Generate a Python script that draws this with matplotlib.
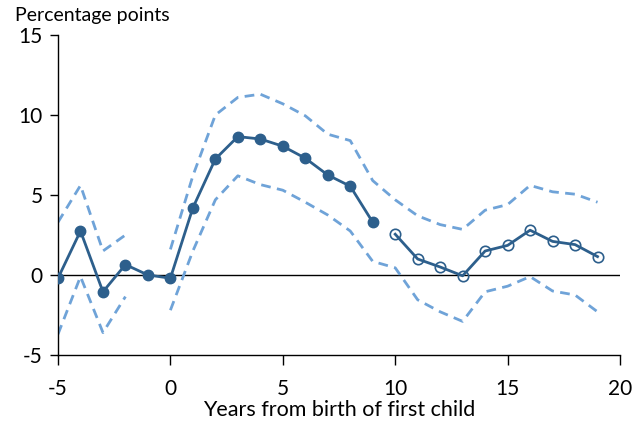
import numpy as np
import matplotlib.pyplot as plt

plt.rcParams['font.family'] = ['Lato', 'DejaVu Sans']

# years relative to birth of first child
years_pre = [-5, -4, -3, -2, -1, 0, 1, 2, 3, 4, 5, 6, 7, 8, 9]
est_pre = [-0.2, 2.75, -1.05, 0.65, 0.0, -0.2, 4.2, 7.25, 8.65, 8.5, 8.05, 7.3, 6.25, 5.55, 3.3]

years_post = [10, 11, 12, 13, 14, 15, 16, 17, 18, 19]
est_post = [2.55, 1.0, 0.5, -0.05, 1.5, 1.85, 2.8, 2.1, 1.9, 1.15]

# confidence bands (gap at -1, the reference year)
band_years_a = [-5, -4, -3, -2]
upper_a = [3.3, 5.6, 1.5, 2.5]
lower_a = [-3.7, -0.1, -3.6, -1.35]

band_years_b = [0, 1, 2, 3, 4, 5, 6, 7, 8, 9, 10, 11, 12, 13, 14, 15, 16, 17, 18, 19]
upper_b = [1.6, 6.2, 10.0, 11.1, 11.3, 10.7, 9.95, 8.8, 8.4, 5.9, 4.7, 3.7, 3.15, 2.85, 4.05, 4.4, 5.6, 5.2, 5.05, 4.55]
lower_b = [-2.2, 1.5, 4.7, 6.2, 5.65, 5.3, 4.55, 3.75, 2.75, 0.85, 0.45, -1.55, -2.3, -2.9, -1.05, -0.7, -0.1, -1.0, -1.25, -2.3]

dark = '#2d5f8c'
light = '#6fa3d8'

fig = plt.figure(figsize=(6.44, 4.21), dpi=100)
ax = fig.add_axes([58/644, 1-355/421, 562/644, 320/421])

ax.axhline(0, color='black', lw=1.0, zorder=1)

for yrs, up, lo in [(band_years_a, upper_a, lower_a), (band_years_b, upper_b, lower_b)]:
    ax.plot(yrs, up, color=light, lw=2.0, ls=(0, (3.5, 2.3)), zorder=2)
    ax.plot(yrs, lo, color=light, lw=2.0, ls=(0, (3.5, 2.3)), zorder=2)

ax.plot(years_pre, est_pre, color=dark, lw=2.0, marker='o', ms=7.5,
        mfc=dark, mec=dark, zorder=3)
ax.plot(years_post, est_post, color=dark, lw=2.0, marker='o', ms=7.5,
        mfc='none', mec=dark, mew=1.2, zorder=3)

ax.set_xlim(-5, 20)
ax.set_ylim(-5, 15)
ax.set_xticks([-5, 0, 5, 10, 15, 20])
ax.set_yticks([-5, 0, 5, 10, 15])
ax.set_xticklabels(['-5', '0', '5', '10', '15', '20'])
ax.set_yticklabels(['-5', '0', '5', '10', '15'])

ax.spines['top'].set_visible(False)
ax.spines['right'].set_visible(False)
for s in ['left', 'bottom']:
    ax.spines[s].set_linewidth(1.0)
ax.tick_params(direction='out', length=6, width=1.0, labelsize=15, colors='black')
ax.tick_params(axis='x', pad=10, length=7)
ax.tick_params(axis='y', pad=5)

ax.set_xlabel('Years from birth of first child', fontsize=15.5, labelpad=1)
fig.text(15/644, 1-16/421, 'Percentage points', fontsize=14, va='center', ha='left')

fig.savefig('out.png', dpi=100)
